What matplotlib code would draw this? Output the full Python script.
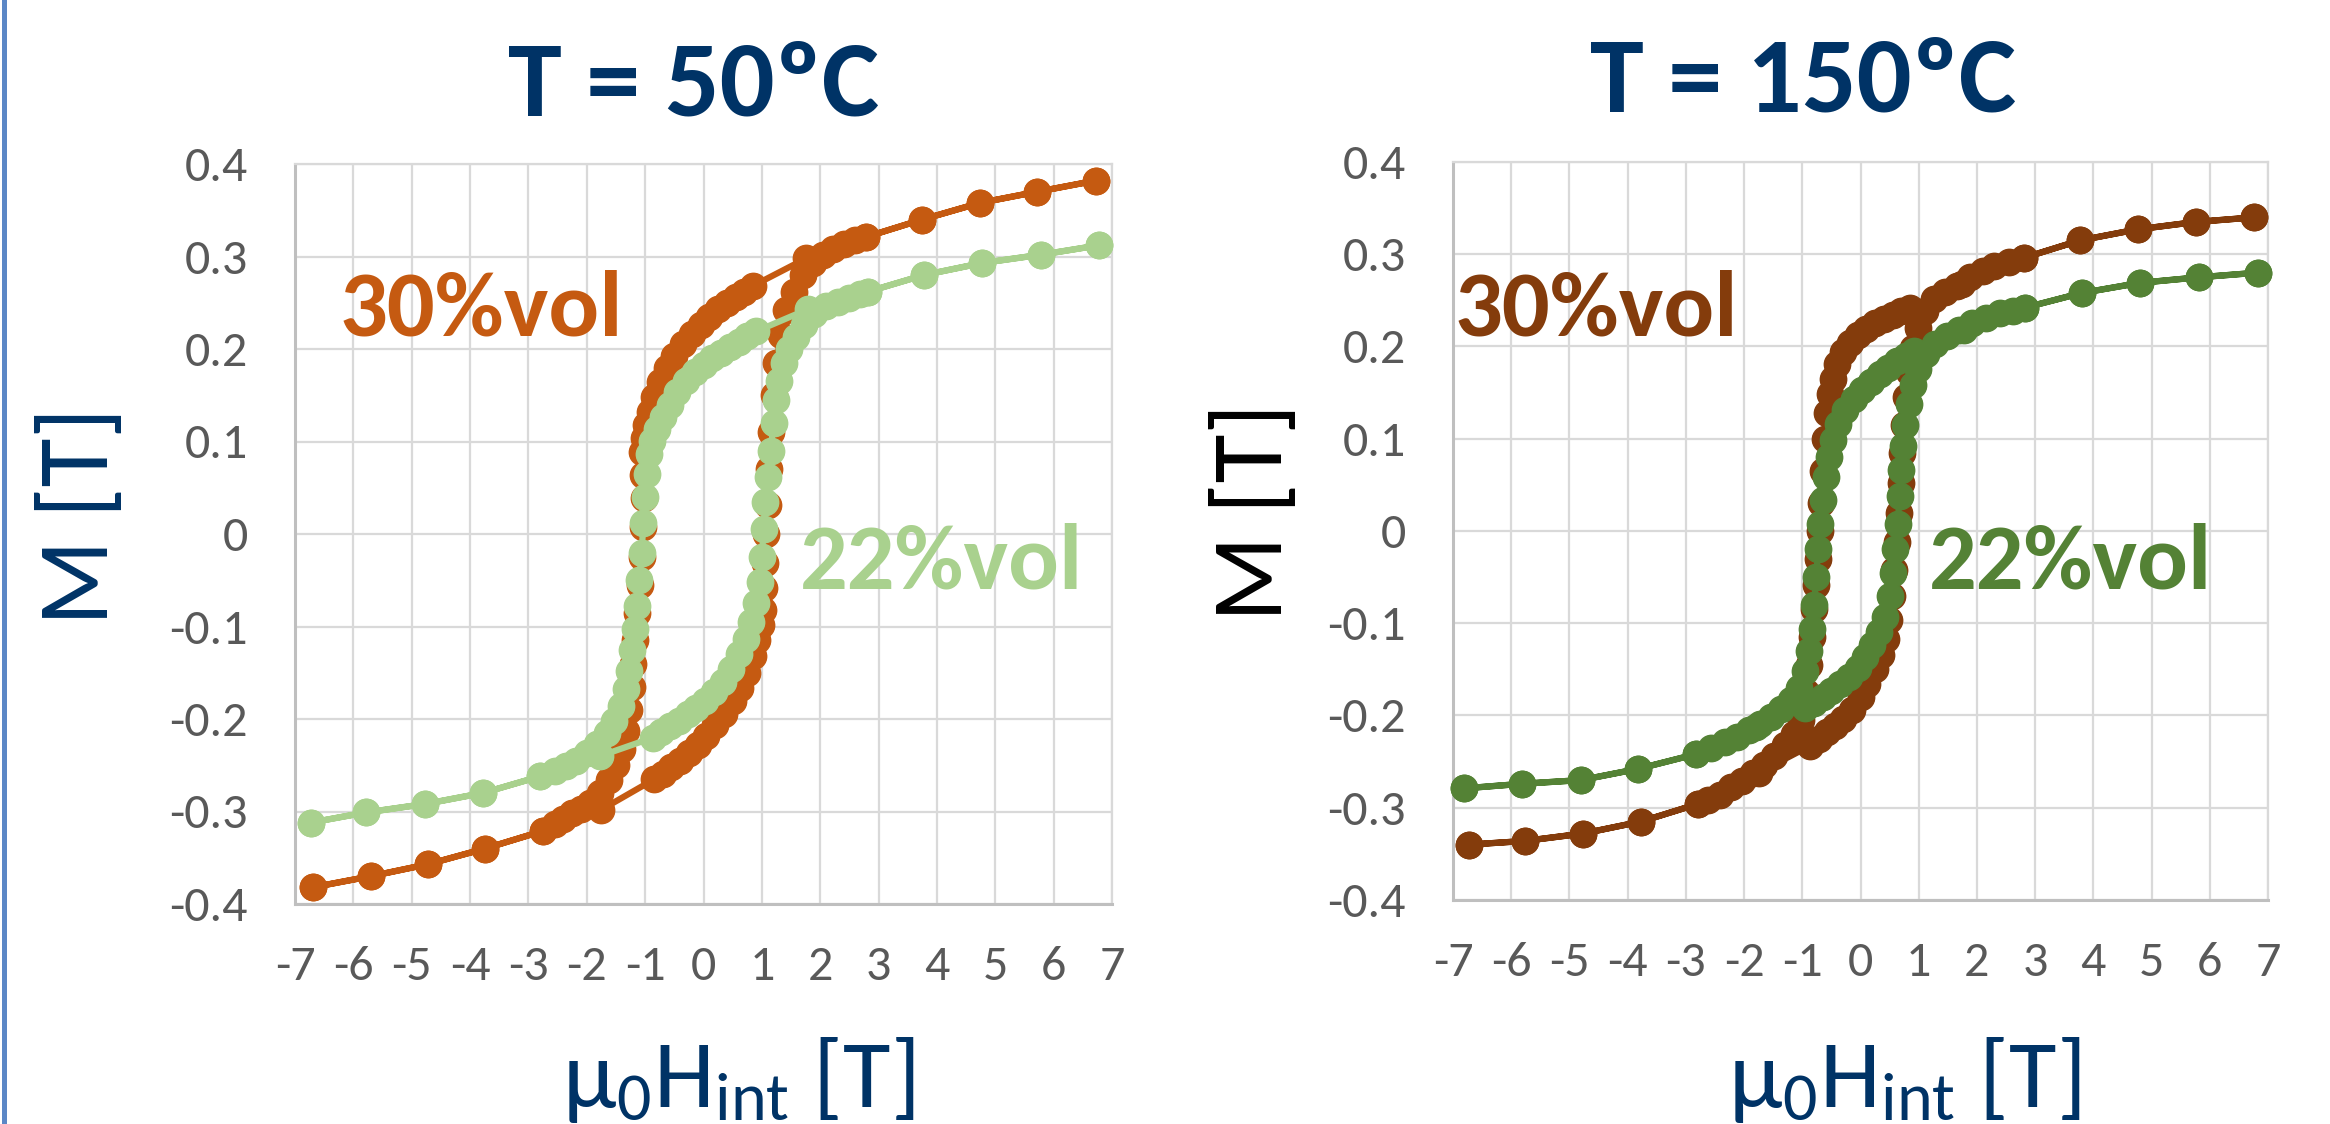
import matplotlib
matplotlib.use("Agg")
import matplotlib.pyplot as plt
from matplotlib import font_manager
from matplotlib.patches import Rectangle

"""
Hysteresis loops M(H) at 50 and 150 C, two filler fractions
"""

# ---- data: field [T], magnetisation [T] ----
# each loop = descending branch then ascending branch

# T = 50 C, 30 %vol
h50_30_down = [6.72, 5.72, 4.74, 3.75, 2.78, 1.76, 0.84,
               0.70, 0.55, 0.40, 0.25, 0.10, -0.05, -0.20, -0.35, -0.50, -0.62,
               -0.74, -0.84, -0.92, -0.98, -1.02, -1.05, -1.04, -1.02, -1.03,
               -1.05, -1.09, -1.14, -1.17, -1.20, -1.23, -1.27, -1.33, -1.40,
               -1.50, -1.62, -1.78, -1.95, -2.10, -2.25, -2.40, -2.55, -2.75,
               -3.74, -4.72, -5.70, -6.70]
m50_30_down = [0.382, 0.370, 0.358, 0.340, 0.321, 0.298, 0.268,
               0.262, 0.256, 0.250, 0.243, 0.235, 0.226, 0.216, 0.205, 0.192, 0.179,
               0.164, 0.148, 0.132, 0.118, 0.104, 0.089, 0.064, 0.039, 0.008,
               -0.025, -0.055, -0.085, -0.115, -0.141, -0.165, -0.190, -0.213, -0.232,
               -0.250, -0.266, -0.280, -0.291, -0.297, -0.302, -0.308, -0.313, -0.321,
               -0.340, -0.357, -0.370, -0.382]
h50_30_up = [-6.70, -5.70, -4.72, -3.74, -2.75, -1.75, -0.84,
             -0.70, -0.55, -0.40, -0.25, -0.10, 0.05, 0.20, 0.35, 0.50, 0.62,
             0.74, 0.84, 0.92, 0.98, 1.02, 1.04, 1.05, 1.07, 1.10, 1.13, 1.16,
             1.20, 1.25, 1.32, 1.42, 1.55, 1.70, 1.88, 2.05, 2.22, 2.40, 2.60,
             2.78, 3.75, 4.74, 5.72, 6.72]
m50_30_up = [-0.382, -0.370, -0.357, -0.340, -0.321, -0.298, -0.265,
             -0.259, -0.252, -0.245, -0.237, -0.228, -0.218, -0.207, -0.195, -0.181, -0.166,
             -0.150, -0.132, -0.115, -0.098, -0.082, -0.058, -0.031, 0.000, 0.031, 0.070, 0.110,
             0.150, 0.185, 0.215, 0.242, 0.262, 0.280, 0.293, 0.302, 0.308, 0.313, 0.318,
             0.321, 0.340, 0.358, 0.370, 0.382]

# T = 50 C, 22 %vol
h50_22_down = [6.77, 5.79, 4.78, 3.78, 2.82, 1.79, 0.90,
               0.75, 0.60, 0.45, 0.30, 0.15, 0.00, -0.15, -0.30, -0.45, -0.58,
               -0.70, -0.80, -0.88, -0.93, -0.96, -1.00, -1.03, -1.06, -1.10,
               -1.14, -1.18, -1.22, -1.27, -1.33, -1.42, -1.53, -1.66, -1.82,
               -2.00, -2.18, -2.36, -2.55, -2.80,
               -3.78, -4.78, -5.78, -6.73]
m50_22_down = [0.312, 0.302, 0.293, 0.280, 0.262, 0.243, 0.219,
               0.214, 0.208, 0.202, 0.196, 0.190, 0.183, 0.175, 0.165, 0.153, 0.140,
               0.127, 0.114, 0.101, 0.086, 0.065, 0.040, 0.012, -0.020, -0.050,
               -0.078, -0.103, -0.125, -0.148, -0.168, -0.186, -0.202, -0.215, -0.227,
               -0.237, -0.245, -0.251, -0.256, -0.262,
               -0.280, -0.292, -0.301, -0.312]
h50_22_up = [-6.73, -5.78, -4.78, -3.78, -2.80, -1.77, -0.86,
             -0.72, -0.57, -0.42, -0.27, -0.12, 0.03, 0.18, 0.33, 0.47, 0.60,
             0.72, 0.82, 0.90, 0.96, 1.00, 1.03, 1.06, 1.10, 1.15, 1.20, 1.25,
             1.30, 1.38, 1.47, 1.58, 1.72, 1.90, 2.10, 2.30, 2.50, 2.68, 2.82,
             3.78, 4.78, 5.79, 6.77]
m50_22_up = [-0.312, -0.301, -0.292, -0.280, -0.262, -0.240, -0.220,
             -0.214, -0.208, -0.202, -0.195, -0.188, -0.180, -0.171, -0.160, -0.146, -0.130,
             -0.113, -0.095, -0.075, -0.052, -0.025, 0.005, 0.035, 0.062, 0.090, 0.120, 0.145,
             0.165, 0.185, 0.200, 0.213, 0.226, 0.238, 0.246, 0.251, 0.255, 0.259, 0.262,
             0.280, 0.293, 0.302, 0.312]

# T = 150 C, 30 %vol
h150_30_down = [6.76, 5.76, 4.76, 3.77, 2.80, 1.75, 0.85,
                0.70, 0.55, 0.40, 0.25, 0.10, -0.05, -0.18, -0.30, -0.40, -0.47,
                -0.53, -0.58, -0.61, -0.64, -0.67, -0.70, -0.73, -0.76, -0.80,
                -0.84, -0.88, -0.94, -1.02, -1.15, -1.30, -1.48, -1.66, -1.84,
                -2.04, -2.22, -2.42, -2.62, -2.80,
                -3.77, -4.77, -5.77, -6.73]
m150_30_down = [0.340, 0.335, 0.327, 0.315, 0.296, 0.268, 0.242,
                0.238, 0.234, 0.230, 0.225, 0.219, 0.212, 0.204, 0.194, 0.181, 0.165,
                0.148, 0.128, 0.100, 0.065, 0.030, 0.000, -0.030, -0.058, -0.085,
                -0.115, -0.145, -0.175, -0.205, -0.220, -0.232, -0.244, -0.254, -0.262,
                -0.271, -0.278, -0.286, -0.292, -0.296,
                -0.315, -0.328, -0.336, -0.340]
h150_30_up = [-6.73, -5.77, -4.77, -3.77, -2.80, -1.75, -0.87,
              -0.72, -0.58, -0.44, -0.30, -0.15, 0.00, 0.12, 0.25, 0.35, 0.43,
              0.49, 0.54, 0.58, 0.62, 0.66, 0.69, 0.72, 0.75, 0.79, 0.84, 0.90,
              0.98, 1.10, 1.26, 1.45, 1.65, 1.88, 2.10, 2.30, 2.55, 2.80,
              3.77, 4.76, 5.76, 6.76]
m150_30_up = [-0.340, -0.336, -0.328, -0.315, -0.296, -0.262, -0.233,
              -0.225, -0.218, -0.211, -0.204, -0.194, -0.180, -0.166, -0.150, -0.134, -0.117,
              -0.097, -0.070, -0.042, -0.012, 0.020, 0.052, 0.085, 0.115, 0.145, 0.172, 0.198,
              0.220, 0.238, 0.251, 0.259, 0.266, 0.275, 0.282, 0.287, 0.292, 0.296,
              0.315, 0.327, 0.335, 0.340]

# T = 150 C, 22 %vol
h150_22_down = [6.82, 5.81, 4.80, 3.80, 2.82, 1.78, 0.92,
                0.78, 0.63, 0.48, 0.33, 0.18, 0.03, -0.12, -0.26, -0.38, -0.47,
                -0.54, -0.60, -0.65, -0.69, -0.73, -0.76, -0.80, -0.84, -0.89,
                -0.96, -1.06, -1.20, -1.36, -1.54, -1.72, -1.92, -2.12, -2.32,
                -2.56, -2.83,
                -3.83, -4.80, -5.81, -6.81]
m150_22_down = [0.280, 0.275, 0.269, 0.258, 0.242, 0.218, 0.195,
                0.190, 0.184, 0.177, 0.170, 0.162, 0.153, 0.143, 0.131, 0.116, 0.099,
                0.080, 0.058, 0.034, 0.008, -0.020, -0.050, -0.080, -0.106, -0.130,
                -0.152, -0.170, -0.183, -0.193, -0.202, -0.209, -0.216, -0.223, -0.229,
                -0.235, -0.242,
                -0.258, -0.270, -0.274, -0.279]
h150_22_up = [-6.81, -5.81, -4.80, -3.83, -2.83, -1.80, -0.96,
              -0.80, -0.65, -0.50, -0.35, -0.20, -0.05, 0.08, 0.20, 0.32, 0.42,
              0.50, 0.55, 0.60, 0.64, 0.67, 0.70, 0.73, 0.77, 0.83, 0.90, 0.99,
              1.12, 1.28, 1.48, 1.70, 1.92, 2.15, 2.40, 2.62, 2.82,
              3.80, 4.80, 5.81, 6.82]
m150_22_up = [-0.279, -0.274, -0.270, -0.258, -0.242, -0.212, -0.192,
              -0.186, -0.180, -0.173, -0.166, -0.158, -0.148, -0.137, -0.124, -0.110, -0.093,
              -0.070, -0.046, -0.020, 0.008, 0.038, 0.066, 0.092, 0.115, 0.138, 0.158, 0.176,
              0.192, 0.203, 0.211, 0.218, 0.225, 0.231, 0.236, 0.239, 0.242,
              0.258, 0.269, 0.275, 0.280]

xticks = list(range(-7, 8))
xtick_labels = [str(v) for v in xticks]
yticks = [-0.4, -0.3, -0.2, -0.1, 0, 0.1, 0.2, 0.3, 0.4]
ytick_labels = ["-0.4", "-0.3", "-0.2", "-0.1", "0", "0.1", "0.2", "0.3", "0.4"]

titles = ["T = 50ºC", "T = 150ºC"]
labels_hi = ["30%vol", "30%vol"]
labels_lo = ["22%vol", "22%vol"]

NAVY = "#003366"
C50_30, C50_22 = "#C55A11", "#A9D18E"
C150_30, C150_22 = "#843C0C", "#548235"

# Calibri-like font if there is one
avail = {f.name for f in font_manager.fontManager.ttflist}
FONT = next((f for f in ["Carlito", "Liberation Sans"] if f in avail), "DejaVu Sans")
FAM = [FONT, "DejaVu Sans"]

plt.rcParams['axes.unicode_minus'] = False
plt.rcParams['font.family'] = FAM
plt.rcParams['mathtext.fontset'] = 'custom'
plt.rcParams['mathtext.rm'] = FONT
plt.rcParams['mathtext.default'] = 'rm'

W, H = 2330, 1124
fig = plt.figure(figsize=(W / 100, H / 100), dpi=100)

# left blue frame line of the slide
fig.add_artist(Rectangle((2 / W, 0), 5 / W, 1, transform=fig.transFigure,
                         color="#5b87c6", lw=0))

ax1 = fig.add_axes([295 / W, 1 - 904 / H, 817 / W, 740 / H])
ax2 = fig.add_axes([1453 / W, 1 - 900 / H, 815 / W, 738 / H])


def style_axes(ax):
    ax.set_xlim(-7, 7)
    ax.set_ylim(-0.4, 0.4)
    ax.set_xticks(xticks)
    ax.set_xticklabels(xtick_labels)
    ax.set_yticks(yticks)
    ax.set_yticklabels(ytick_labels)
    ax.grid(True, color="#d9d9d9", lw=1.6)
    ax.set_axisbelow(True)
    ax.tick_params(length=0, colors="#595959", labelsize=36)
    ax.tick_params(axis='y', pad=34)
    ax.tick_params(axis='x', pad=30)
    for s in ["top", "right"]:
        ax.spines[s].set_color("#d9d9d9")
        ax.spines[s].set_linewidth(1.6)
    for s in ["left", "bottom"]:
        ax.spines[s].set_color("#bfbfbf")
        ax.spines[s].set_linewidth(2.2)


def loop(ax, hd, md, hu, mu, color, z):
    ax.plot(hd + hu, md + mu, '-o', color=color, lw=4.5, ms=19,
            mec=color, zorder=z, clip_on=False)


style_axes(ax1)
style_axes(ax2)

loop(ax1, h50_30_down, m50_30_down, h50_30_up, m50_30_up, C50_30, 3)
loop(ax1, h50_22_down, m50_22_down, h50_22_up, m50_22_up, C50_22, 4)
loop(ax2, h150_30_down, m150_30_down, h150_30_up, m150_30_up, C150_30, 3)
loop(ax2, h150_22_down, m150_22_down, h150_22_up, m150_22_up, C150_22, 4)

# labels inside the plots
ax1.text(0.054, 0.768, labels_hi[0], transform=ax1.transAxes, color=C50_30,
         fontsize=68, fontweight='bold', va='baseline')
ax1.text(0.618, 0.426, labels_lo[0], transform=ax1.transAxes, color=C50_22,
         fontsize=68, fontweight='bold', va='baseline')
ax2.text(0.002, 0.765, labels_hi[1], transform=ax2.transAxes, color=C150_30,
         fontsize=68, fontweight='bold', va='baseline')
ax2.text(0.584, 0.422, labels_lo[1], transform=ax2.transAxes, color=C150_22,
         fontsize=68, fontweight='bold', va='baseline')

# titles
fig.text(694 / W, 1 - 115 / H, titles[0], ha='center', va='baseline', color=NAVY,
         fontsize=78, fontweight='bold')
fig.text(1803 / W, 1 - 112 / H, titles[1], ha='center', va='baseline', color=NAVY,
         fontsize=78, fontweight='bold')

# axis titles
fig.text(82 / W, 1 - 516 / H, "M [T]", rotation=90, ha='center', va='center',
         color=NAVY, fontsize=72)
fig.text(1256 / W, 1 - 512 / H, "M [T]", rotation=90, ha='center', va='center',
         color="black", fontsize=72)
xlab = "μ$_0$H$_{int}$ [T]"
fig.text(562 / W, 1 - 1107 / H, xlab, ha='left', va='baseline', color=NAVY,
         fontsize=70)
fig.text(1728 / W, 1 - 1107 / H, xlab, ha='left', va='baseline', color=NAVY,
         fontsize=70)

fig.savefig("out.png", dpi=100)
